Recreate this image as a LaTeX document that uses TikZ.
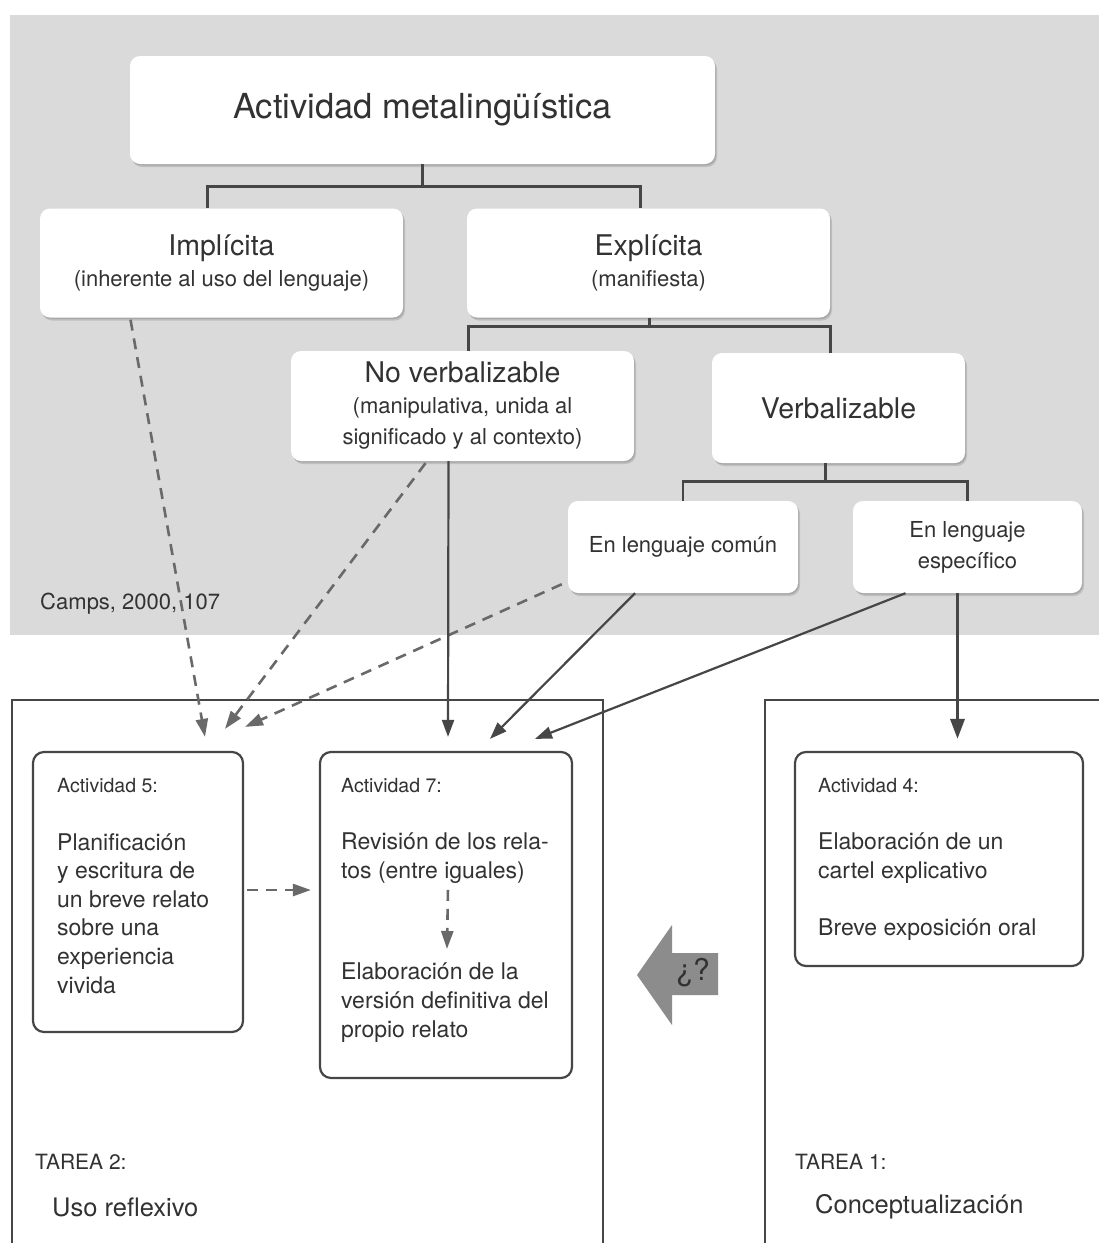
\documentclass[tikz,border=0pt]{standalone}
\usepackage{fontspec}
\setmainfont{TeX Gyre Heros}
\usetikzlibrary{shadows,calc,arrows.meta}
\definecolor{bggray}{RGB}{218,218,218}
\definecolor{txt}{RGB}{50,50,50}
\definecolor{ln}{RGB}{70,70,70}
\definecolor{dln}{RGB}{105,105,105}
\definecolor{arrowgray}{RGB}{140,140,140}
\newcommand{\fhead}{\fontsize{28.5}{33}\selectfont}
\newcommand{\fsub}{\fontsize{22}{31}\selectfont}
\newcommand{\fbody}{\fontsize{23}{28.6}\selectfont}
\newcommand{\ftitle}{\fontsize{19.5}{24}\selectfont}
\begin{document}
\begin{tikzpicture}[x=1pt,y=-1pt,
  wbox/.style={fill=white, rounded corners=10pt, inner sep=0pt, align=center, text=txt,
    drop shadow={shadow xshift=2pt,shadow yshift=-3pt,opacity=0.12,fill=black},
    drop shadow={shadow xshift=1pt,shadow yshift=-1.5pt,opacity=0.12,fill=black}},
  abox/.style={draw=ln, line width=2.2pt, rounded corners=11pt, inner sep=0pt},
  tline/.style={draw=ln, line width=2.6pt},
  frame/.style={draw=ln, line width=2.2pt},
  solidarr/.style={draw=ln, line width=2.2pt, -{Triangle[length=17pt,width=12pt]}},
  dasharr/.style={draw=dln, line width=2.6pt, dash pattern=on 11pt off 8pt, -{Triangle[length=18pt,width=12pt]}},
  thickarr/.style={draw=ln, line width=3.4pt, -{Triangle[length=20pt,width=14pt]}},
  txtnode/.style={text=txt, inner sep=0pt},
]
\useasboundingbox (0,0) rectangle (1099,1243);
\fill[white] (0,0) rectangle (1099,1243);
\fill[bggray] (10,15) rectangle (1099,635);

% top boxes
\node[wbox, minimum width=585pt, minimum height=108pt, font=\fontsize{34.5}{37}\selectfont] (am) at (422.5,110) {Actividad metalingüística};
\node[wbox, minimum width=363pt, minimum height=109pt, font=\fsub] (imp) at (221.5,263) {{\fhead Implícita}\\(inherente al uso del lenguaje)};
\node[wbox, minimum width=363pt, minimum height=109pt, font=\fsub] (exp) at (648.5,263) {{\fhead Explícita}\\(manifiesta)};
\node[wbox, minimum width=343pt, minimum height=110pt, font=\fsub] (nv) at (462.5,406) {{\fhead No verbalizable}\\(manipulativa, unida al\\significado y al contexto)};
\node[wbox, minimum width=253pt, minimum height=110pt, font=\fhead] (vb) at (838.5,408) {Verbalizable};
\node[wbox, minimum width=230pt, minimum height=92pt, font=\fsub] (com) at (683,547) {En lenguaje común};
\node[wbox, minimum width=229pt, minimum height=92pt, font=\fsub] (esp) at (967.5,547) {En lenguaje\\específico};

\node[txtnode, anchor=west, font=\fsub] (camps) at (40,604) {Camps, 2000, 107};

% tree lines
\draw[tline] (am.south) -- ++(0,22) coordinate (j1);
\draw[tline] ([xshift=-14pt]imp.north) |- (j1) -| ([xshift=-8pt]exp.north);
\draw[tline] ([xshift=1pt]exp.south) -- ++(0,9) coordinate (j2);
\draw[tline] ([xshift=6pt]nv.north) |- (j2) -| ([xshift=-8pt]vb.north);
\draw[tline] ([xshift=-13pt]vb.south) -- ++(0,18) coordinate (j3);
\draw[tline] (com.north) |- (j3) -| (esp.north);

% frames
\draw[frame] (12,1243) -- (12,700) -- (603,700) -- (603,1243);
\draw[frame] (765,1243) -- (765,700) -- (1099,700);

% activity boxes
\node[abox, minimum width=210pt, minimum height=280pt] (a5) at (138,892) {};
\node[abox, minimum width=252pt, minimum height=326pt] (a7) at (446,915) {};
\node[abox, minimum width=288pt, minimum height=214pt] (a4) at (939,859) {};

\node[txtnode, anchor=west, font=\ftitle] (a5t) at (57,786) {Actividad 5:};
\node[txtnode, anchor=north west, align=left, font=\fbody] (a5b) at (57,833) {Planificación\\y escritura de\\un breve relato\\sobre una\\experiencia\\vivida};

\node[txtnode, anchor=west, font=\ftitle] (a7t) at (341,786) {Actividad 7:};
\node[txtnode, anchor=north west, align=left, font=\fbody] (rev) at (341,833) {Revisión de los rela-\\tos (entre iguales)};
\node[txtnode, anchor=north west, align=left, font=\fbody] (elab) at (341,963) {Elaboración de la\\versión definitiva del\\propio relato};

\node[txtnode, anchor=west, font=\ftitle] (a4t) at (818,786) {Actividad 4:};
\node[txtnode, anchor=north west, align=left, font=\fbody] (a4b) at (818,833) {Elaboración de un\\cartel explicativo\\[28.6pt]Breve exposición oral};

\node[txtnode, anchor=west, font=\fontsize{21}{24}\selectfont] (t2) at (35,1162) {TAREA 2:};
\node[txtnode, anchor=west, font=\fontsize{25.5}{28}\selectfont] (u2) at (52,1207) {Uso reflexivo};
\node[txtnode, anchor=west, font=\fontsize{21}{24}\selectfont] (t1) at (795,1162) {TAREA 1:};
\node[txtnode, anchor=west, font=\fontsize{25.5}{28}\selectfont] (u1) at (815,1207) {Conceptualización};

% connectors to activities
\draw[dasharr] ([xshift=-91pt,yshift=-2pt]imp.south) -- ($(a5.north)+(67,-14)$);
\draw[dasharr] ([xshift=-37pt,yshift=-2pt]nv.south) -- ($(a5.north)+(87,-22)$);
\draw[dasharr] ($(com.south west)+(-6,-9)$) -- ($(a5.north)+(107,-24)$);
\draw[solidarr] ([xshift=-14pt]nv.south) -- ($(a7.north)+(2,-14)$);
\draw[solidarr] ([xshift=-48pt]com.south) -- ($(a7.north)+(44,-12)$);
\draw[solidarr] ([xshift=-62pt]esp.south) -- ($(a7.north)+(89,-12)$);
\draw[thickarr] ([xshift=-10pt]esp.south) -- ($(a4.north -| esp.south)+(-10,-12)$);

\draw[dasharr] ([xshift=3pt]a5.east |- 0,890) -- ([xshift=-8pt]a7.west |- 0,890);
\draw[dasharr] ([xshift=3pt,yshift=-6pt]rev.south) -- ([xshift=2pt,yshift=14pt]elab.north);

% big question arrow
\fill[arrowgray] (637,975) -- (672,925) -- (672,953) -- (718,953) -- (718,995) -- (672,995) -- (672,1025) -- cycle;
\node[txtnode, text=txt, font=\fontsize{30}{32}\selectfont] (q) at (693,973) {¿?};
\end{tikzpicture}
\end{document}
